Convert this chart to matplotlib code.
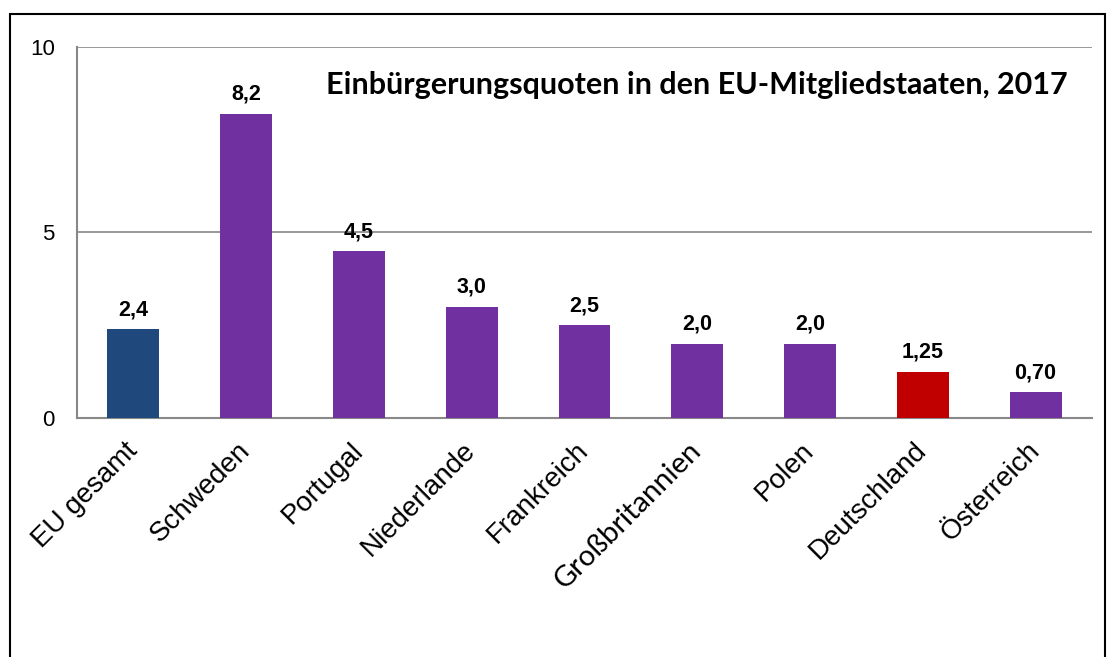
import matplotlib.pyplot as plt
import matplotlib.transforms as mtransforms
from matplotlib.patches import Rectangle

# Chart data
countries = ["EU gesamt", "Schweden", "Portugal", "Niederlande", "Frankreich",
             "Großbritannien", "Polen", "Deutschland", "Österreich"]
quotes = [2.4, 8.2, 4.5, 3.0, 2.5, 2.0, 2.0, 1.25, 0.70]
value_labels = ["2,4", "8,2", "4,5", "3,0", "2,5", "2,0", "2,0", "1,25", "0,70"]
bar_colors = ["#1F497D", "#7030A0", "#7030A0", "#7030A0", "#7030A0",
              "#7030A0", "#7030A0", "#C00000", "#7030A0"]
title = "Einbürgerungsquoten in den EU-Mitgliedstaaten, 2017"

plt.rcParams['font.family'] = ['Liberation Sans', 'DejaVu Sans']

fig = plt.figure(figsize=(11.11, 6.57), dpi=100)
ax = fig.add_axes([0.0693, 0.3638, 0.9136, 0.5647])

x = range(len(countries))
ax.bar(x, quotes, width=0.46, color=bar_colors, zorder=3)

for xi, v, lab in zip(x, quotes, value_labels):
    ax.annotate(lab, (xi, v), xytext=(0, 10), textcoords='offset points',
                ha='center', va='baseline', fontsize=15.5, fontweight='bold')

ax.set_xlim(-0.5, len(countries) - 0.5)
ax.set_ylim(0, 10)
ax.set_yticks([0, 5, 10])
ax.yaxis.grid(True, color='#888888', linewidth=1.2, zorder=0)

ax.set_xticks(list(x))
ax.set_xticklabels(countries, rotation=45, ha='right', rotation_mode='anchor',
                   fontsize=20)
ax.tick_params(axis='x', length=0, pad=14)
ax.tick_params(axis='y', length=0, pad=16, labelsize=16)

# nudge category labels a bit to the left
shift = mtransforms.ScaledTranslation(-9 / 100, 0, fig.dpi_scale_trans)
for lbl in ax.get_xticklabels():
    lbl.set_transform(lbl.get_transform() + shift)
    if lbl.get_text() == "Großbritannien":
        # this one is set in a different typeface in the original
        lbl.set_family(['Lato', 'DejaVu Sans'])
        lbl.set_fontsize(21)

for side in ['top', 'right']:
    ax.spines[side].set_visible(False)
for side in ['left', 'bottom']:
    ax.spines[side].set_color('#888888')
    ax.spines[side].set_linewidth(1.5)

fig.text(1068 / 1111, 1 - 94 / 657, title, ha='right', va='baseline',
         fontsize=22, fontweight='bold', family=['Lato', 'DejaVu Sans'])

# outer frame
fig.patches.append(Rectangle((10 / 1111, -0.05), 1095 / 1111, 1.05 - 14 / 657,
                             transform=fig.transFigure, fill=False,
                             edgecolor='black', linewidth=1.5))

fig.savefig("out.png", dpi=100)
